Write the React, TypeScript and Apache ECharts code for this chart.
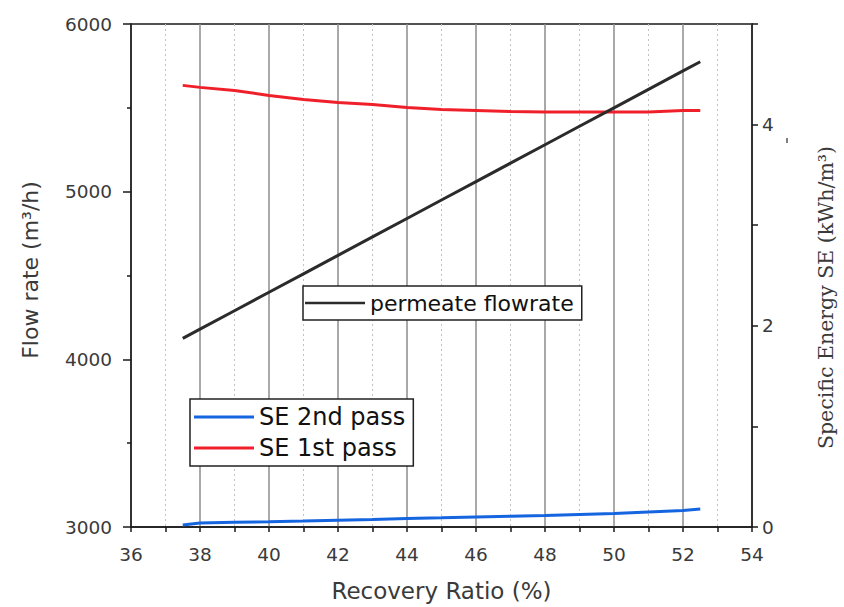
import React, { useEffect, useRef } from "react";
import * as echarts from "echarts";

// Recovery ratio (%) sample points
const recovery = [37.5, 38, 39, 40, 41, 42, 43, 44, 45, 46, 47, 48, 49, 50, 51, 52, 52.5];
// Permeate flowrate (m³/h), left axis
const permeateFlow = [4125, 4180, 4290, 4400, 4510, 4620, 4730, 4840, 4950, 5060, 5170, 5280, 5390, 5500, 5610, 5720, 5775];
// Specific energy, 1st pass (kWh/m³), right axis
const se1stPass = [4.39, 4.37, 4.34, 4.29, 4.25, 4.22, 4.2, 4.17, 4.15, 4.14, 4.13, 4.125, 4.125, 4.125, 4.125, 4.14, 4.14];
// Specific energy, 2nd pass (kWh/m³), right axis
const se2ndPass = [0.02, 0.04, 0.047, 0.053, 0.06, 0.068, 0.075, 0.085, 0.092, 0.1, 0.108, 0.115, 0.125, 0.135, 0.15, 0.163, 0.18];

const xTicks = { min: 36, max: 54, step: 2 };
const leftTicks = { min: 3000, max: 6000, step: 1000 };
const rightTicks = { min: 0, max: 5, step: 1 };

const SANS = "DejaVu Sans";
const SERIF = "DejaVu Serif";
const AXIS = "#1a1a1a";
const LABEL = "#3a3a3a";

export default function App() {
  const ref = useRef<HTMLDivElement>(null);
  useEffect(() => {
    if (!ref.current) return;
    const chart = echarts.init(ref.current, undefined, { renderer: "svg" });
    const pairs = (ys: number[]) => recovery.map((x, i) => [x, ys[i]]);
    chart.setOption({
      animation: false,
      backgroundColor: "#ffffff",
      grid: {
        left: 131,
        right: 90,
        top: 24,
        bottom: 78,
        show: true,
        borderColor: AXIS,
        borderWidth: 1.5,
        backgroundColor: "transparent",
      },
      legend: [
        {
          data: ["permeate flowrate"],
          left: 303,
          top: 286,
          orient: "horizontal",
          icon: "rect",
          padding: [6, 8, 6, 2],
          itemWidth: 60,
          itemHeight: 2.5,
          borderColor: "#222",
          borderWidth: 1.5,
          backgroundColor: "#fff",
          textStyle: { fontFamily: SANS, fontSize: 22, color: "#111" },
        },
        {
          data: ["SE 2nd pass", "SE 1st pass"],
          left: 190,
          top: 399,
          orient: "vertical",
          icon: "rect",
          itemGap: 7,
          padding: [6, 8, 6, 4],
          itemWidth: 60,
          itemHeight: 3,
          borderColor: "#222",
          borderWidth: 1.5,
          backgroundColor: "#fff",
          textStyle: { fontFamily: SANS, fontSize: 24, color: "#111" },
        },
      ],
      xAxis: {
        type: "value",
        min: xTicks.min,
        max: xTicks.max,
        interval: xTicks.step,
        name: "Recovery Ratio (%)",
        nameLocation: "middle",
        nameGap: 52,
        nameTextStyle: { fontFamily: SANS, fontSize: 23, color: LABEL },
        axisLine: { show: true, lineStyle: { color: AXIS, width: 1.5 } },
        axisTick: { show: true, inside: false, length: 5, lineStyle: { color: AXIS, width: 1.5 } },
        minorTick: { show: true, splitNumber: 2, length: 5, lineStyle: { color: AXIS, width: 1.5 } },
        splitLine: { show: true, lineStyle: { color: "#8c8c8c", width: 1.5 } },
        minorSplitLine: { show: true, lineStyle: { color: "#c2c2c2", width: 1, type: [2, 3] } },
        axisLabel: { fontFamily: SANS, fontSize: 18.5, color: LABEL, margin: 18 },
      },
      yAxis: [
        {
          type: "value",
          position: "left",
          min: leftTicks.min,
          max: leftTicks.max,
          interval: leftTicks.step,
          name: "Flow rate (m³/h)",
          nameLocation: "middle",
          nameRotate: 90,
          nameGap: 90,
          nameTextStyle: { fontFamily: SANS, fontSize: 22, color: LABEL, padding: [0, 0, 0, 11] },
          axisLine: { show: true, lineStyle: { color: AXIS, width: 1.5 } },
          axisTick: { show: true, inside: false, length: 8, lineStyle: { color: AXIS, width: 1.5 } },
          minorTick: { show: true, splitNumber: 2, length: 4, lineStyle: { color: AXIS, width: 1.5 } },
          splitLine: { show: false },
          axisLabel: {
            fontFamily: SANS,
            fontSize: 18.5,
            color: LABEL,
            margin: 19,
            formatter: (v: number) => String(v),
          },
        },
        {
          type: "value",
          position: "right",
          min: rightTicks.min,
          max: rightTicks.max,
          interval: rightTicks.step,
          name: "Specific Energy SE (kWh/m³)",
          nameLocation: "middle",
          nameRotate: 90,
          nameGap: 63,
          nameTextStyle: { fontFamily: SERIF, fontSize: 20.5, color: LABEL, padding: [0, 44, 0, 0] },
          axisLine: { show: true, lineStyle: { color: AXIS, width: 1.5 } },
          axisTick: { show: true, inside: false, length: 6, lineStyle: { color: AXIS, width: 1.5 } },
          splitLine: { show: false },
          axisLabel: {
            fontFamily: SANS,
            fontSize: 18.5,
            color: LABEL,
            margin: 10,
            formatter: (v: number) => (v % 2 === 0 && v < rightTicks.max ? String(v) : ""),
          },
        },
      ],
      graphic: [
        {
          type: "line",
          shape: { x1: 787, y1: 138, x2: 787, y2: 143 },
          style: { stroke: "#555", lineWidth: 1.5 },
          silent: true,
        },
      ],
      series: [
        {
          name: "SE 1st pass",
          type: "line",
          yAxisIndex: 1,
          data: pairs(se1stPass),
          symbol: "none",
          color: "#f0202a",
          lineStyle: { color: "#f0202a", width: 3 },
        },
        {
          name: "SE 2nd pass",
          type: "line",
          yAxisIndex: 1,
          data: pairs(se2ndPass),
          symbol: "none",
          color: "#1565e0",
          lineStyle: { color: "#1565e0", width: 3 },
        },
        {
          name: "permeate flowrate",
          type: "line",
          yAxisIndex: 0,
          data: pairs(permeateFlow),
          symbol: "none",
          color: "#2b2b2b",
          lineStyle: { color: "#2b2b2b", width: 3 },
        },
      ],
    });
    return () => chart.dispose();
  }, []);
  return (
    <div
      ref={ref}
      style={{ position: "absolute", left: 0, top: 0, width: 844, height: 607 }}
    />
  );
}
